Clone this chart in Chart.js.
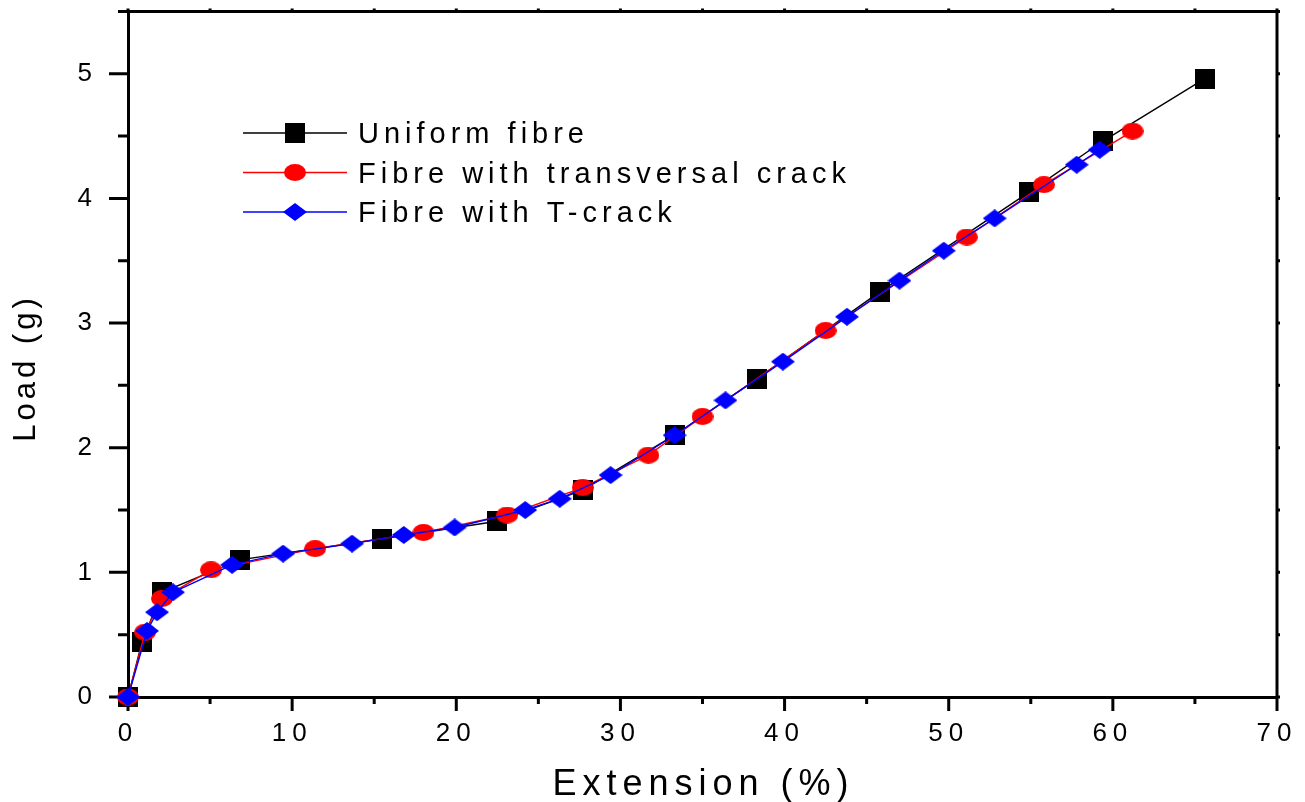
<!DOCTYPE html>
<html>
<head>
<meta charset="utf-8">
<script src="https://cdn.jsdelivr.net/npm/chart.js@4.4.1/dist/chart.umd.min.js"></script>
<style>
  html, body { margin: 0; padding: 0; background: #fff; }
  #wrap { width: 1305px; height: 802px; }
</style>
</head>
<body>
<div id="wrap"><canvas id="chart" width="1305" height="802"></canvas></div>
<script>
// values
const seriesNames = ['Uniform fibre', 'Fibre with transversal crack', 'Fibre with T-crack'];

const uniformX = [0, 0.85, 2.07, 6.8, 15.5, 22.5, 27.7, 33.3, 38.3, 45.8, 54.9, 59.4, 65.6];
const uniformY = [0, 0.44, 0.84, 1.10, 1.27, 1.41, 1.66, 2.10, 2.55, 3.25, 4.05, 4.46, 4.96];

const transX = [0, 1.04, 2.07, 5.06, 11.4, 18.0, 23.1, 27.7, 31.7, 35.0, 42.5, 51.1, 55.8, 61.2];
const transY = [0, 0.52, 0.79, 1.02, 1.19, 1.32, 1.46, 1.68, 1.94, 2.25, 2.94, 3.69, 4.11, 4.54];

const tcrackX = [0, 1.16, 1.77, 2.74, 6.34, 9.45, 13.65, 16.8, 19.9, 24.2, 26.3, 29.4, 33.3, 36.4, 39.9, 43.8, 47.0, 49.7, 52.8, 57.8, 59.2];
const tcrackY = [0, 0.53, 0.68, 0.84, 1.06, 1.15, 1.23, 1.30, 1.36, 1.50, 1.59, 1.78, 2.10, 2.38, 2.69, 3.05, 3.34, 3.58, 3.84, 4.27, 4.39];

const FONT = '"Liberation Sans", Arial, sans-serif';

function toPoints(xs, ys) {
  return xs.map((x, i) => ({ x: x, y: ys[i] }));
}

// marker images
function makeSquare(s, color) {
  const c = document.createElement('canvas');
  c.width = s; c.height = s;
  const g = c.getContext('2d');
  g.fillStyle = color;
  g.fillRect(0, 0, s, s);
  return c;
}
function makeEllipse(w, h, color) {
  const c = document.createElement('canvas');
  c.width = w; c.height = h;
  const g = c.getContext('2d');
  g.fillStyle = color;
  g.beginPath();
  g.ellipse(w / 2, h / 2, w / 2, h / 2, 0, 0, Math.PI * 2);
  g.fill();
  return c;
}
function makeDiamond(w, h, color) {
  const c = document.createElement('canvas');
  c.width = w; c.height = h;
  const g = c.getContext('2d');
  g.fillStyle = color;
  g.beginPath();
  g.moveTo(w / 2, 0);
  g.lineTo(w, h / 2);
  g.lineTo(w / 2, h);
  g.lineTo(0, h / 2);
  g.closePath();
  g.fill();
  return c;
}

const colors = ['#000000', '#ff0000', '#0000ff'];
const markers = [makeSquare(20, colors[0]), makeEllipse(22, 17, colors[1]), makeDiamond(24, 18, colors[2])];

// axes ticks, frame, titles and legend
const framePlugin = {
  id: 'frame',
  beforeDraw(chart) {
    chart.ctx.letterSpacing = '6px';
  },
  beforeDatasetsDraw(chart) {
    const ctx = chart.ctx;
    const xs = chart.scales.x, ys = chart.scales.y;
    const a = chart.chartArea;
    ctx.save();
    ctx.strokeStyle = '#000';
    ctx.lineWidth = 3;
    ctx.beginPath();
    // top and right axis lines
    ctx.moveTo(a.left, a.top);
    ctx.lineTo(a.right, a.top);
    ctx.moveTo(a.right, a.top - 1.5);
    ctx.lineTo(a.right, a.bottom + 1.5);
    xs.ticks.forEach(t => {
      const px = xs.getPixelForValue(t.value);
      const len = t.value % 10 === 0 ? 14 : 7;
      ctx.moveTo(px, a.bottom);
      ctx.lineTo(px, a.bottom + len);
      ctx.moveTo(px, a.top);
      ctx.lineTo(px, a.top - 3);
    });
    ys.ticks.forEach(t => {
      const py = ys.getPixelForValue(t.value);
      const len = Number.isInteger(t.value) ? 19 : 10;
      ctx.moveTo(a.left, py);
      ctx.lineTo(a.left - len, py);
      ctx.moveTo(a.right, py);
      ctx.lineTo(a.right + 3, py);
    });
    ctx.stroke();
    ctx.restore();
  },
  afterDraw(chart) {
    const ctx = chart.ctx;
    const a = chart.chartArea;
    ctx.save();
    ctx.fillStyle = '#000';
    ctx.textBaseline = 'alphabetic';

    // x title
    ctx.font = '36px ' + FONT;
    ctx.letterSpacing = '6px';
    ctx.textAlign = 'center';
    ctx.fillText('Extension (%)', (a.left + a.right) / 2 + 1, 795);

    // y title
    ctx.save();
    ctx.font = '31px ' + FONT;
    ctx.letterSpacing = '4px';
    ctx.translate(35, 370);
    ctx.rotate(-Math.PI / 2);
    ctx.fillText('Load (g)', 2, 0);
    ctx.restore();

    // legend
    ctx.font = '29px ' + FONT;
    ctx.letterSpacing = '5px';
    ctx.textAlign = 'left';
    seriesNames.forEach((name, i) => {
      const y = 133 + i * 39.5;
      ctx.strokeStyle = colors[i];
      ctx.lineWidth = 1.3;
      ctx.beginPath();
      ctx.moveTo(243, y);
      ctx.lineTo(347, y);
      ctx.stroke();
      const m = markers[i];
      ctx.drawImage(m, 295 - m.width / 2, y - m.height / 2);
      ctx.fillStyle = '#000';
      ctx.fillText(name, 358, y + 10);
    });
    ctx.restore();
  }
};

const makeDataset = (i, xs, ys, order) => ({
  label: seriesNames[i],
  data: toPoints(xs, ys),
  showLine: true,
  borderColor: colors[i],
  borderWidth: 1.4,
  pointStyle: markers[i],
  pointRadius: 10,
  pointHoverRadius: 10,
  clip: false,
  order: order
});

new Chart(document.getElementById('chart').getContext('2d'), {
  type: 'scatter',
  data: {
    datasets: [
      makeDataset(0, uniformX, uniformY, 3),
      makeDataset(1, transX, transY, 2),
      makeDataset(2, tcrackX, tcrackY, 1)
    ]
  },
  options: {
    responsive: false,
    animation: false,
    devicePixelRatio: 1,
    layout: { padding: { top: 11, right: 28, left: 0, bottom: 0 } },
    plugins: {
      legend: { display: false },
      tooltip: { enabled: false }
    },
    scales: {
      x: {
        type: 'linear',
        min: 0,
        max: 70,
        grid: { display: false, drawTicks: false },
        border: { display: true, color: '#000', width: 3 },
        ticks: {
          stepSize: 5,
          autoSkip: false,
          maxRotation: 0,
          padding: 21,
          color: '#000',
          font: { family: FONT, size: 26 },
          callback: v => (v % 10 === 0 ? String(v) : '')
        },
        afterFit: scale => {
          scale.height = 105;
          scale.paddingLeft = 0;
          scale.paddingRight = 0;
        }
      },
      y: {
        type: 'linear',
        min: 0,
        max: 5.5,
        grid: { display: false, drawTicks: false },
        border: { display: true, color: '#000', width: 3 },
        ticks: {
          stepSize: 0.5,
          autoSkip: false,
          padding: 30,
          color: '#000',
          font: { family: FONT, size: 26 },
          callback: v => (Number.isInteger(v) ? String(v) : '')
        },
        afterFit: scale => {
          scale.width = 128;
          scale.paddingTop = 0;
          scale.paddingBottom = 0;
        }
      }
    }
  },
  plugins: [framePlugin]
});
</script>
</body>
</html>
